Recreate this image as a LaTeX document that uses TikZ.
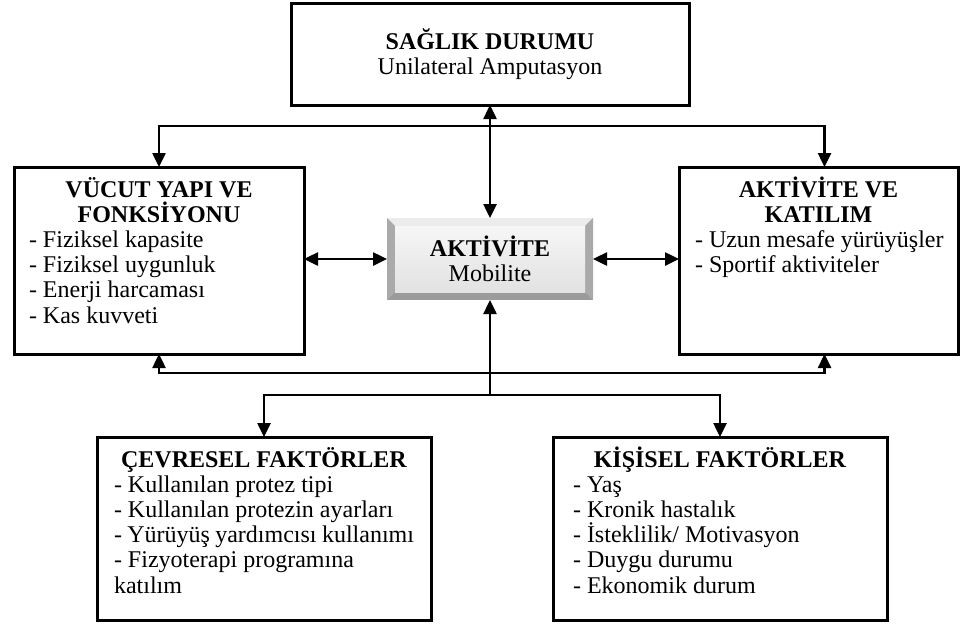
\documentclass[tikz,border=0pt]{standalone}
\usepackage{fontspec}
\setmainfont{Liberation Serif}
\usepackage{tikz}
\usetikzlibrary{arrows.meta,positioning,calc}
\definecolor{bevellight}{RGB}{236,236,236}
\definecolor{bevelside}{RGB}{170,170,170}
\definecolor{beveldark}{RGB}{155,155,155}
\definecolor{facetop}{RGB}{246,246,246}
\definecolor{facebot}{RGB}{226,226,226}
\newcommand{\topline}{\rule{0pt}{22pt}}
\newcommand{\boxbody}[3]{\parbox[t][#2][t]{#1}{#3}}
\tikzset{
  box/.style={draw=black,line width=3pt,fill=white,inner xsep=15pt,inner ysep=8pt,
    outer sep=0pt,anchor=north west,font=\fontsize{24}{25.2}\selectfont},
  hub/.style={minimum width=206pt,minimum height=82pt,inner sep=0pt,outer sep=0pt,
    align=center,font=\fontsize{24}{25.2}\selectfont,
    path picture={
      \path (path picture bounding box.north west) coordinate (hnw)
            (path picture bounding box.south east) coordinate (hse);
      \fill[beveldark] (hnw) rectangle (hse);
      \fill[bevellight] (hnw) -- (hnw -| hse) -- ([shift={(-8pt,-8pt)}]hnw -| hse)
        -- ([shift={(8pt,-8pt)}]hnw) -- cycle;
      \fill[bevelside] (hnw) -- ([shift={(8pt,-8pt)}]hnw) -- ([shift={(8pt,8pt)}]hnw |- hse)
        -- (hnw |- hse) -- cycle;
      \fill[bevelside] (hnw -| hse) -- ([shift={(-8pt,-8pt)}]hnw -| hse)
        -- ([shift={(-8pt,8pt)}]hse) -- (hse) -- cycle;
      \shade[top color=facetop,bottom color=facebot]
        ([shift={(8pt,-8pt)}]hnw) rectangle ([shift={(-8pt,8pt)}]hse);
    }},
  flow/.style={-{Triangle[length=14pt,width=13pt]},line width=2.5pt},
  dflow/.style={{Triangle[length=14pt,width=13pt]}-{Triangle[length=14pt,width=13pt]},line width=2.5pt},
}
\begin{document}
\begin{tikzpicture}[x=1pt,y=-1pt]
  \useasboundingbox (0,0) rectangle (960,625);

  \node[box,align=center,minimum width=398pt,minimum height=102pt] (saglik) at (291,3)
    {\textbf{SAĞLIK DURUMU}\\ Unilateral Amputasyon};

  \node[box] (vucut) at (14,167) {\boxbody{260pt}{171pt}{%
    {\centering\topline\textbf{VÜCUT YAPI VE\\ FONKSİYONU}\par}\raggedright
    - Fiziksel kapasite\\ - Fiziksel uygunluk\\ - Enerji harcaması\\ - Kas kuvveti}};

  \node[box,inner xsep=12pt] (katilim) at (679,167) {\boxbody{255pt}{171pt}{%
    {\centering\topline\textbf{AKTİVİTE VE\\ KATILIM}\par}\raggedright
    \hspace*{4pt}- Uzun mesafe yürüyüşler\\ \hspace*{4pt}- Sportif aktiviteler}};

  \node[hub] (aktivite) at (490,259) {\textbf{AKTİVİTE}\\ Mobilite};

  \node[box,inner xsep=17pt] (cevre) at (97,437) {\boxbody{300pt}{167pt}{%
    {\centering\topline\textbf{ÇEVRESEL FAKTÖRLER}\par}\raggedright
    - Kullanılan protez tipi\\ - Kullanılan protezin ayarları\\
    - Yürüyüş yardımcısı kullanımı\\ - Fizyoterapi programına\\ katılım}};

  \node[box,inner xsep=20pt] (kisisel) at (553,437) {\boxbody{294pt}{167pt}{%
    {\centering\topline\textbf{KİŞİSEL FAKTÖRLER}\par}\raggedright
    - Yaş\\ - Kronik hastalık\\ - İsteklilik/ Motivasyon\\ - Duygu durumu\\ - Ekonomik durum}};

  % junctions of the connector lines
  \coordinate (topbar) at (490,126);
  \coordinate (midbar) at (490,373);
  \coordinate (lowbar) at (490,395);

  \draw[dflow] (saglik) -- (aktivite);
  \draw[flow] (topbar) -| (vucut.north);
  \draw[flow] (topbar) -| ([xshift=6pt]katilim.north);
  \draw[dflow] (vucut.east |- aktivite.west) -- (aktivite.west);
  \draw[dflow] (aktivite.east) -- (katilim.west |- aktivite.east);
  \draw[flow] (lowbar) -- (aktivite);
  \draw[flow] (midbar) -| (vucut.south);
  \draw[flow] (midbar) -| ([xshift=6pt]katilim.south);
  \draw[flow] (lowbar) -| (cevre.north);
  \draw[flow] (lowbar) -| (kisisel.north);
\end{tikzpicture}
\end{document}
